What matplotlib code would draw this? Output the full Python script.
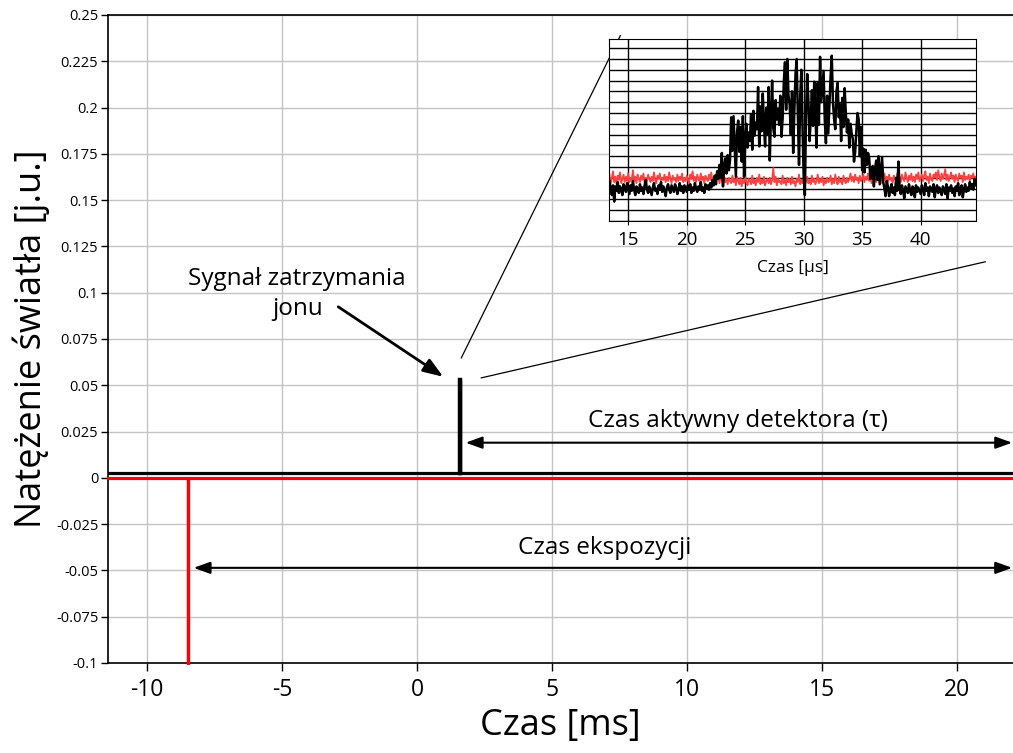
import numpy as np
import matplotlib
matplotlib.use("Agg")
import matplotlib.pyplot as plt

plt.rcParams['font.family'] = ['Open Sans', 'DejaVu Sans']
plt.rcParams['axes.unicode_minus'] = False

# --- glowny wykres (czas w ms) ---
czas_czarny = [-11.45, 1.6, 1.6, 1.6, 22.08]
sygnal_czarny = [0.0027, 0.0027, 0.053, 0.0027, 0.0027]
czas_czerwony = [-11.45, -8.5, -8.5, -8.5, 22.08]
sygnal_czerwony = [0.0, 0.0, -0.1, 0.0, 0.0]

x_ticks = [-10, -5, 0, 5, 10, 15, 20]
y_ticks = [-0.1, -0.075, -0.05, -0.025, 0, 0.025, 0.05, 0.075, 0.1,
           0.125, 0.15, 0.175, 0.2, 0.225, 0.25]
y_labels = ['-0.1', '-0.075', '-0.05', '-0.025', '0', '0.025', '0.05', '0.075',
            '0.1', '0.125', '0.15', '0.175', '0.2', '0.225', '0.25']

# --- wstawka (czas w us, 0.1 us krok od 13.4 do 44.7) ---
t_us = np.arange(134, 448) / 10
inset_czarny = [
    3.7, 3.0, 2.4, 3.3, 1.8, 3.2,
    2.8, 3.6, 2.6, 3.2, 2.9, 2.4, 3.4, 3.1, 2.7, 3.5,
    3.0, 2.5, 3.3, 2.8, 3.7, 2.9, 2.4, 3.2, 3.0, 2.6,
    3.4, 2.8, 3.1, 2.5, 3.3, 3.8, 2.9, 2.6, 3.2, 2.8,
    2.4, 3.1, 3.5, 2.8, 3.0, 2.5, 3.3, 2.9, 3.6, 2.7,
    3.2, 2.8, 2.3, 3.1, 3.4, 2.9, 2.6, 3.3, 3.0, 2.7,
    3.4, 3.1, 2.5, 2.9, 3.5, 2.8, 3.2, 2.6, 3.3, 3.0,
    2.7, 3.3, 2.9, 3.4, 2.6, 3.1, 2.8, 3.5, 3.0, 2.7,
    3.2, 2.9, 3.6, 2.8, 3.1, 2.6, 3.4, 3.0, 3.3, 2.9,
    3.5, 3.1, 3.8, 3.3, 4.2, 3.4, 4.6, 3.9, 5.2, 4.0,
    6.3, 3.2, 5.0, 5.8, 4.4, 6.1, 4.7, 5.6, 9.6, 6.5,
    9.7, 7.0, 4.1, 8.2, 9.3, 6.4, 8.7, 5.5, 9.7, 4.1,
    7.6, 9.0, 6.8, 8.2, 7.4, 9.9, 6.6, 10.2, 7.9, 9.1,
    8.5, 12.4, 6.9, 10.6, 8.3, 11.8, 9.0, 6.9, 10.5, 8.0,
    12.4, 5.6, 9.8, 13.0, 8.6, 7.8, 11.2, 9.4, 10.4, 8.9,
    11.6, 7.8, 9.5, 12.9, 14.7, 10.3, 15.0, 11.6, 10.8, 8.0,
    12.0, 6.3, 10.2, 13.6, 15.0, 9.8, 5.2, 11.5, 14.0, 8.6,
    4.1, 2.4, 9.9, 13.6, 11.2, 7.4, 9.4, 12.1, 8.8, 12.9,
    10.0, 6.8, 12.8, 8.9, 15.2, 11.0, 12.4, 13.9, 9.4, 7.2,
    11.6, 8.1, 10.8, 13.4, 15.3, 11.0, 9.4, 8.5, 12.0, 12.8,
    9.6, 10.8, 7.4, 11.4, 8.7, 12.3, 10.0, 8.2, 9.4, 6.8,
    9.0, 8.1, 7.6, 5.5, 6.4, 8.3, 10.0, 9.4, 6.0, 8.7,
    4.7, 6.7, 4.5, 6.6, 5.2, 6.3, 5.8, 3.9, 4.4, 5.1,
    3.2, 4.9, 5.6, 3.8, 6.0, 3.4, 4.6, 5.9, 3.6, 3.0,
    2.3, 3.7, 3.2, 2.3, 2.9, 3.4, 2.6, 3.1, 2.4, 4.0,
    2.8, 5.5, 3.0, 2.5, 3.3, 2.8, 2.1, 3.2, 2.9, 2.6,
    3.4, 2.8, 2.4, 3.2, 3.0, 2.2, 3.3, 2.7, 3.1, 2.8,
    2.5, 3.3, 2.9, 2.4, 3.5, 2.8, 3.1, 2.3, 3.2, 2.9,
    2.7, 3.4, 2.2, 3.0, 3.3, 2.6, 3.1, 2.8, 2.4, 3.2,
    2.9, 2.5, 3.4, 2.1, 3.1, 2.8, 3.3, 2.6, 3.0, 2.3,
    3.2, 2.8, 3.5, 2.4, 3.0, 3.3, 2.2, 2.9, 3.4, 2.7,
    3.1, 2.8, 3.6, 3.0, 3.4, 2.9, 3.9, 3.3,
]
inset_czerwony = [
    4.3, 3.5, 4.0, 4.6, 3.6, 4.1,
    3.4, 4.2, 3.8, 4.5, 3.5, 3.9, 4.3, 3.6, 4.1, 3.7,
    4.4, 3.6, 4.0, 3.8, 4.7, 3.7, 4.1, 3.5, 4.3, 3.9,
    3.6, 4.2, 3.8, 4.4, 3.5, 4.0, 3.7, 4.3, 3.9, 3.6,
    4.1, 3.7, 4.5, 3.8, 3.5, 4.2, 3.9, 4.4, 3.6, 4.0,
    3.8, 4.3, 3.6, 4.1, 3.7, 4.5, 3.9, 3.5, 4.2, 3.8,
    4.0, 3.6, 4.3, 3.7, 4.1, 3.8, 4.4, 3.6, 4.0, 3.7,
    4.2, 3.8, 3.5, 4.3, 3.9, 4.6, 3.7, 4.1, 3.6, 4.3,
    3.9, 3.7, 4.4, 3.8, 4.1, 3.5, 4.2, 3.9, 3.7, 4.3,
    3.8, 4.5, 3.7, 4.0, 3.6, 4.3, 3.9, 4.1, 3.5, 4.2,
    3.7, 3.3, 4.1, 3.6, 3.9, 3.4, 4.0, 3.7, 3.5, 4.2,
    3.6, 3.9, 3.3, 4.1, 3.7, 3.4, 4.0, 3.2, 3.8, 3.5,
    4.1, 3.6, 3.3, 3.9, 3.7, 3.4, 4.2, 3.5, 3.8, 3.3,
    4.0, 3.6, 4.3, 3.4, 3.8, 3.5, 4.1, 3.3, 3.7, 3.9,
    3.5, 4.0, 3.4, 3.8, 4.9, 3.6, 4.1, 3.3, 3.9, 3.6,
    3.7, 3.4, 4.2, 3.5, 3.8, 3.3, 4.0, 3.6, 3.9, 3.4,
    4.1, 3.5, 3.7, 3.2, 3.9, 3.6, 4.3, 3.4, 3.8, 3.5,
    4.0, 3.3, 3.7, 4.1, 3.5, 3.8, 3.4, 4.2, 3.6, 3.9,
    3.4, 3.7, 4.3, 3.5, 3.9, 3.6, 4.1, 3.3, 3.8, 3.5,
    4.0, 3.6, 3.7, 4.2, 3.4, 3.9, 3.5, 4.3, 3.7, 3.4,
    4.1, 3.6, 3.8, 3.4, 4.2, 3.7, 3.5, 4.0, 3.6, 3.9,
    4.4, 3.7, 4.1, 3.6, 4.3, 3.8, 4.0, 3.5, 4.2, 3.7,
    3.9, 4.3, 3.6, 4.1, 3.8, 4.4, 3.7, 4.0, 3.5, 4.2,
    3.8, 4.1, 3.6, 4.3, 3.9, 3.7, 4.2, 3.5, 4.0, 4.4,
    3.7, 4.1, 3.6, 4.3, 3.8, 4.0, 3.5, 4.2, 3.9, 3.7,
    4.4, 3.8, 4.1, 3.6, 4.3, 3.9, 3.7, 4.5, 4.0, 3.6,
    4.2, 3.8, 4.4, 3.7, 4.1, 3.6, 4.3, 3.9, 4.5, 3.7,
    4.0, 4.3, 3.7, 4.2, 4.6, 3.8, 4.1, 3.5, 4.4, 3.9,
    3.7, 4.3, 4.0, 4.5, 3.8, 4.7, 4.1, 3.7, 4.4, 3.9,
    4.2, 4.8, 3.8, 4.3, 3.7, 4.1, 4.5, 3.9, 4.2, 3.6,
    4.3, 3.9, 3.7, 4.4, 4.0, 4.2, 3.6, 4.5, 3.8, 4.1,
    3.9, 4.3, 3.7, 4.2, 4.0, 4.4, 3.8, 4.1,
]
inset_ticks = [15, 20, 25, 30, 35, 40]

W, H = 1013, 753
fig = plt.figure(figsize=(W / 100, H / 100), dpi=100)
ax = fig.add_axes([108 / W, 1 - 663 / H, (W - 108) / W, 648 / H])

ax.set_xlim(-11.45, 22.08)
ax.set_ylim(-0.1, 0.25)
ax.set_xticks(x_ticks)
ax.set_yticks(y_ticks)
ax.set_yticklabels(y_labels)
ax.grid(True, color='#c4c4c4', lw=1.0)
ax.set_axisbelow(True)
for s in ['left', 'bottom', 'top']:
    ax.spines[s].set_linewidth(1.2)
ax.spines['right'].set_visible(False)
ax.tick_params(axis='x', direction='out', length=6, width=1, pad=5, labelsize=16.5)
ax.tick_params(axis='y', direction='out', length=5, width=1, pad=2, labelsize=10.5)

ax.plot(czas_czerwony, sygnal_czerwony, color='#ff0000', lw=2.3, zorder=3, clip_on=False)
ax.plot(czas_czarny, sygnal_czarny, color='k', lw=2.3, zorder=4, solid_joinstyle='miter')
ax.plot([1.6, 1.6], [0.0027, 0.053], color='k', lw=3.2, zorder=4)

ax.set_xlabel('Czas [ms]', fontsize=26, labelpad=4)
ax.set_ylabel('Natężenie światła [j.u.]', fontsize=26, labelpad=4)

# adnotacje
ax.annotate('', xy=(1.8, 0.019), xytext=(22.05, 0.019),
            arrowprops=dict(arrowstyle='<|-|>,head_length=0.5,head_width=0.18',
                            color='k', lw=1.5, shrinkA=0, shrinkB=0, mutation_scale=20),
            annotation_clip=False)
ax.text(11.9, 0.0308, 'Czas aktywny detektora (τ)', fontsize=17.5, ha='center', va='center')

ax.annotate('', xy=(-8.28, -0.0486), xytext=(22.05, -0.0486),
            arrowprops=dict(arrowstyle='<|-|>,head_length=0.5,head_width=0.18',
                            color='k', lw=1.5, shrinkA=0, shrinkB=0, mutation_scale=20),
            annotation_clip=False)
ax.text(6.97, -0.0378, 'Czas ekspozycji', fontsize=17.5, ha='center', va='center')

ax.annotate('', xy=(0.97, 0.0546), xytext=(-2.92, 0.0924),
            arrowprops=dict(arrowstyle='-|>,head_length=0.6,head_width=0.22',
                            color='k', lw=2, shrinkA=0, shrinkB=0, mutation_scale=20))
ax.text(-4.44, 0.0994, 'Sygnał zatrzymania\njonu', fontsize=17.5, ha='center', va='center',
        linespacing=1.3)

# linie powiekszenia
ax.plot([1.64, 7.53], [0.0648, 0.2388], color='k', lw=0.9, zorder=5)
ax.plot([2.38, 21.05], [0.054, 0.1167], color='k', lw=0.9, zorder=5, clip_on=False)

# wstawka
axi = fig.add_axes([609.3 / W, 1 - 221 / H, (976 - 609.3) / W, 182 / H])
axi.set_facecolor('white')
axi.plot(t_us, inset_czerwony, color='#ff4040', lw=1.3)
axi.plot(t_us, inset_czarny, color='k', lw=1.8)
axi.set_xlim(13.38, 44.73)
axi.set_ylim(0, 16.85)
axi.set_xticks(inset_ticks)
axi.set_yticks(np.arange(0, 17))
axi.set_yticklabels([])
axi.tick_params(axis='y', length=0)
axi.tick_params(axis='x', direction='out', length=3, width=0.8, labelsize=13.5, pad=4)
axi.grid(True, color='black', lw=1.0)
axi.set_axisbelow(True)
for s in axi.spines.values():
    s.set_linewidth(0.8)
axi.set_xlabel('Czas [µs]', fontsize=12.5, labelpad=8)

fig.savefig('out.png', dpi=100)
